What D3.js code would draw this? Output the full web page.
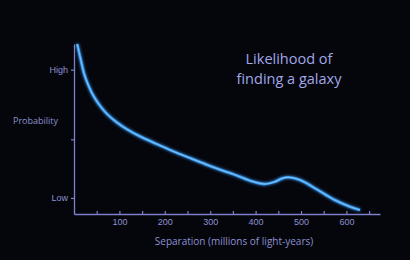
<!DOCTYPE html>
<html>
<head>
<meta charset="utf-8">
<script src="https://cdn.jsdelivr.net/npm/d3@7"></script>
<style>
  html, body { margin: 0; padding: 0; background: #05050c; }
  svg { display: block; font-family: "Open Sans", "Noto Sans", sans-serif; }
</style>
</head>
<body>
<svg id="chart"></svg>
<script>
// separation (millions of light-years) vs probability (Low = 0, High = 1)
const separation = [7, 15, 22, 33, 44, 59, 73, 95, 117, 147, 184, 220, 257, 294, 330, 352, 388, 421, 443, 458, 472, 498, 535, 571, 608, 630]
const probability = [1.2, 1.076, 0.972, 0.867, 0.789, 0.711, 0.654, 0.587, 0.535, 0.477, 0.418, 0.361, 0.309, 0.257, 0.21, 0.184, 0.135, 0.109, 0.127, 0.152, 0.161, 0.14, 0.067, -0.01, -0.068, -0.094]

const xTicks = [0, 50, 100, 150, 200, 250, 300, 350, 400, 450, 500, 550, 600, 650]
const xLabels = [100, 200, 300, 400, 500, 600]
const yTicks = [0, 0.457, 1]
const yLabels = ['Low', '', 'High']

const width = 410
const height = 260

const axisColor = '#7b80c8'
const textColor = '#8d92d0'

const svg = d3.select('#chart')
    .attr('width', width)
    .attr('height', height)

svg.append('rect').attr('width', width).attr('height', height).attr('fill', '#05050c')

const defs = svg.append('defs')
const glow = defs.append('filter').attr('id', 'glow')
    .attr('x', '-20%').attr('y', '-20%').attr('width', '140%').attr('height', '140%')
glow.append('feGaussianBlur').attr('stdDeviation', 1.4).attr('result', 'blur')
const merge = glow.append('feMerge')
merge.append('feMergeNode').attr('in', 'blur')
merge.append('feMergeNode').attr('in', 'SourceGraphic')

xScale = d3.scaleLinear().domain([0, 674]).range([74, 380])
yScale = d3.scaleLinear().domain([-0.125, 1.2]).range([214, 44])

// x axis, ticks pointing up
const xAxis = d3.axisBottom(xScale)
    .tickValues(xTicks)
    .tickSize(-3)
    .tickSizeOuter(0)
    .tickFormat(d => xLabels.includes(d) ? d : '')

const gx = svg.append('g')
    .attr('transform', `translate(0, ${yScale.range()[0]})`)
    .call(xAxis)
gx.select('.domain').attr('stroke', axisColor).attr('stroke-width', 1.3)
gx.selectAll('.tick line').attr('stroke', axisColor).attr('stroke-width', 1.2)
gx.selectAll('.tick text')
    .attr('fill', textColor)
    .attr('font-size', 9)
    .attr('y', 5)

// y axis
const yAxis = d3.axisLeft(yScale)
    .tickValues(yTicks)
    .tickSize(3)
    .tickSizeOuter(0)
    .tickFormat((d, i) => yLabels[i])

const gy = svg.append('g')
    .attr('transform', `translate(${xScale.range()[0]}, 0)`)
    .call(yAxis)
gy.select('.domain').attr('stroke', axisColor).attr('stroke-width', 1.3)
gy.selectAll('.tick line').attr('stroke', axisColor).attr('stroke-width', 1.2)
gy.selectAll('.tick text')
    .attr('fill', textColor)
    .attr('font-size', 9)
    .attr('x', -6)

svg.append('text')
    .attr('x', 35.5)
    .attr('y', 122)
    .attr('text-anchor', 'middle')
    .attr('dominant-baseline', 'middle')
    .attr('fill', textColor)
    .attr('font-size', 9)
    .text('Probability')

svg.append('text')
    .attr('x', 234)
    .attr('y', 242)
    .attr('text-anchor', 'middle')
    .attr('dominant-baseline', 'middle')
    .attr('fill', textColor)
    .attr('font-size', 10)
    .text('Separation (millions of light-years)')

const title = svg.append('text')
    .attr('text-anchor', 'middle')
    .attr('fill', '#a2a7e8')
    .attr('font-size', 14.5)
title.append('tspan').attr('x', 289).attr('y', 64).text('Likelihood of')
title.append('tspan').attr('x', 289).attr('y', 84).text('finding a galaxy')

// curve
const points = separation.map((s, i) => [s, probability[i]])
const line = d3.line()
    .x(d => xScale(d[0]))
    .y(d => yScale(d[1]))
    .curve(d3.curveCatmullRom.alpha(0.5))

svg.append('path')
    .datum(points)
    .attr('d', line)
    .attr('fill', 'none')
    .attr('stroke', '#3d9cf0')
    .attr('stroke-width', 2.6)
    .attr('filter', 'url(#glow)')

svg.append('path')
    .datum(points)
    .attr('d', line)
    .attr('fill', 'none')
    .attr('stroke', '#7cc6ff')
    .attr('stroke-width', 1)
</script>
</body>
</html>
